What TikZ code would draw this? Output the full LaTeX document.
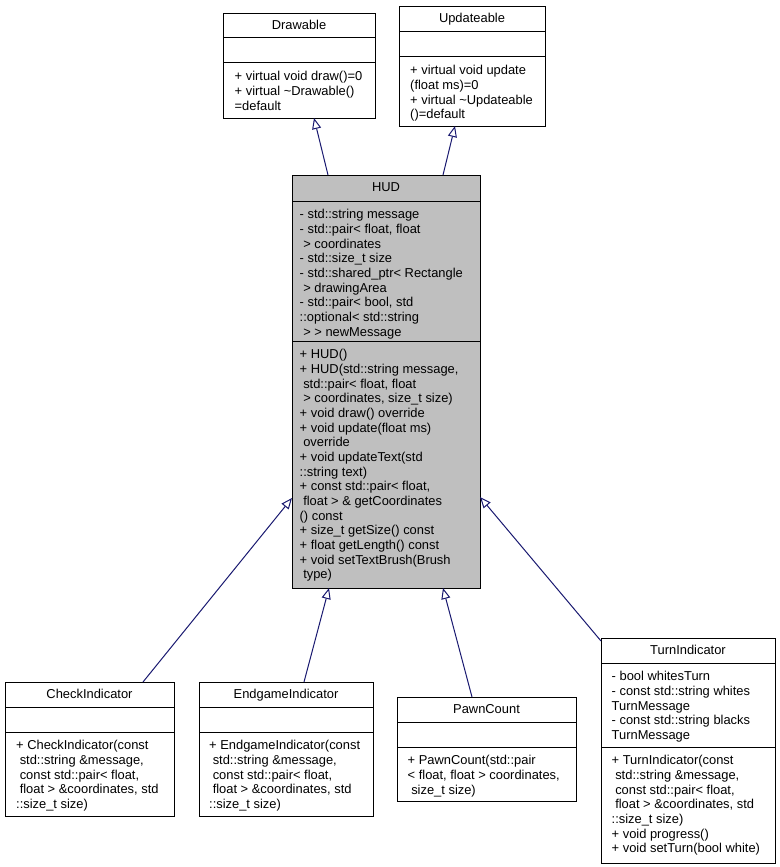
\documentclass[tikz,border=0pt]{standalone}
\usepackage{fontspec}
\setmainfont{Liberation Sans}
\usetikzlibrary{arrows.meta}
\definecolor{edgeblue}{HTML}{191970}
\definecolor{hudgray}{HTML}{BFBFBF}
\newcommand\dfont{\fontsize{12.9}{14.67}\selectfont}
\newcommand\fst{\rule{0pt}{10pt}}
\newcommand\lsp{\hspace*{0.278em}}
\tikzset{
  cls/.style={draw=black, line width=1pt, fill=white, inner sep=0pt, anchor=north west},
  hudcls/.style={cls, fill=hudgray},
  divl/.style={draw=black, line width=1pt},
  ttl/.style={font=\dfont, inner sep=0pt, anchor=base},
  txt/.style={font=\dfont, inner sep=0pt, anchor=north west, align=left},
  inh/.style={draw=edgeblue, line width=1pt, -{Triangle[open, length=11pt, width=9pt, fill=white]}}
}
\begin{document}
\begin{tikzpicture}[x=1pt, y=-1pt]
\useasboundingbox (0,0) rectangle (779,867);

% Drawable
\node[cls, minimum width=152pt, minimum height=105pt] (drawable) at (223,13) {};
\draw[divl] (223,38) -- (375,38);
\draw[divl] (223,63) -- (375,63);
\node[ttl] (drawableT) at (299,29.5) {Drawable};
\node[txt] (drawableM) at (234.5,70.5) {\fst+ virtual void draw()=0\\+ virtual \textasciitilde Drawable()\\=default};

% Updateable
\node[cls, minimum width=146pt, minimum height=120pt] (updateable) at (399,6) {};
\draw[divl] (399,32) -- (545,32);
\draw[divl] (399,57) -- (545,57);
\node[ttl] (updateableT) at (472,22.5) {Updateable};
\node[txt] (updateableM) at (410,64.5) {\fst+ virtual void update\\(float ms)=0\\+ virtual \textasciitilde Updateable\\()=default};

% HUD
\node[hudcls, minimum width=188pt, minimum height=413pt] (hud) at (292,175) {};
\draw[divl] (292,201) -- (480,201);
\draw[divl] (292,341) -- (480,341);
\node[ttl] (hudT) at (386,191.5) {HUD};
\node[txt] (hudA) at (299.5,208.5) {\fst- std::string message\\- std::pair< float, float\\\lsp> coordinates\\- std::size\_t size\\- std::shared\_ptr< Rectangle\\\lsp> drawingArea\\- std::pair< bool, std\\::optional< std::string\\\lsp> > newMessage};
\node[txt] (hudM) at (299.5,348.5) {\fst+ HUD()\\+ HUD(std::string message,\\\lsp std::pair< float, float\\\lsp> coordinates, size\_t size)\\+ void draw() override\\+ void update(float ms)\\\lsp override\\+ void updateText(std\\::string text)\\+ const std::pair< float,\\\lsp float > \& getCoordinates\\() const\\+ size\_t getSize() const\\+ float getLength() const\\+ void setTextBrush(Brush\\\lsp type)};

% CheckIndicator
\node[cls, minimum width=169pt, minimum height=134pt] (check) at (5,682) {};
\draw[divl] (5,707) -- (174,707);
\draw[divl] (5,732) -- (174,732);
\node[ttl] (checkT) at (89.5,698.5) {CheckIndicator};
\node[txt] (checkM) at (16,739.5) {\fst+ CheckIndicator(const\\\lsp std::string \&message,\\\lsp const std::pair< float,\\\lsp float > \&coordinates, std\\::size\_t size)};

% EndgameIndicator
\node[cls, minimum width=174pt, minimum height=134pt] (endgame) at (199,682) {};
\draw[divl] (199,707) -- (373,707);
\draw[divl] (199,732) -- (373,732);
\node[ttl] (endgameT) at (286,698.5) {EndgameIndicator};
\node[txt] (endgameM) at (209,739.5) {\fst+ EndgameIndicator(const\\\lsp std::string \&message,\\\lsp const std::pair< float,\\\lsp float > \&coordinates, std\\::size\_t size)};

% PawnCount
\node[cls, minimum width=179pt, minimum height=104pt] (pawn) at (397,697) {};
\draw[divl] (397,722) -- (576,722);
\draw[divl] (397,747) -- (576,747);
\node[ttl] (pawnT) at (486.5,713.5) {PawnCount};
\node[txt] (pawnM) at (407.5,754.5) {\fst+ PawnCount(std::pair\\< float, float > coordinates,\\\lsp size\_t size)};

% TurnIndicator
\node[cls, minimum width=174pt, minimum height=225pt] (turn) at (601,638) {};
\draw[divl] (601,663) -- (775,663);
\draw[divl] (601,747) -- (775,747);
\node[ttl] (turnT) at (688,654.5) {TurnIndicator};
\node[txt] (turnA) at (611.5,670.5) {\fst- bool whitesTurn\\- const std::string whites\\TurnMessage\\- const std::string blacks\\TurnMessage};
\node[txt] (turnM) at (611.5,754.5) {\fst+ TurnIndicator(const\\\lsp std::string \&message,\\\lsp const std::pair< float,\\\lsp float > \&coordinates, std\\::size\_t size)\\+ void progress()\\+ void setTurn(bool white)};

% connector end points
\coordinate (hudTopA) at (328,175);
\coordinate (drawableBot) at (314,118);
\coordinate (hudTopB) at (443,175);
\coordinate (updateableBot) at (455,126);
\coordinate (checkTop) at (143,682);
\coordinate (hudLeft) at (292,498);
\coordinate (endgameTop) at (304,682);
\coordinate (hudBotA) at (329,588);
\coordinate (pawnTop) at (472,697);
\coordinate (hudBotB) at (443,588);
\coordinate (turnCorner) at (601,641);
\coordinate (hudRight) at (480,497);

\draw[inh] (hudTopA) -- (drawableBot);
\draw[inh] (hudTopB) -- (updateableBot);
\draw[inh] (checkTop) -- (hudLeft);
\draw[inh] (endgameTop) -- (hudBotA);
\draw[inh] (pawnTop) -- (hudBotB);
\draw[inh] (turnCorner) -- (hudRight);
\end{tikzpicture}
\end{document}
